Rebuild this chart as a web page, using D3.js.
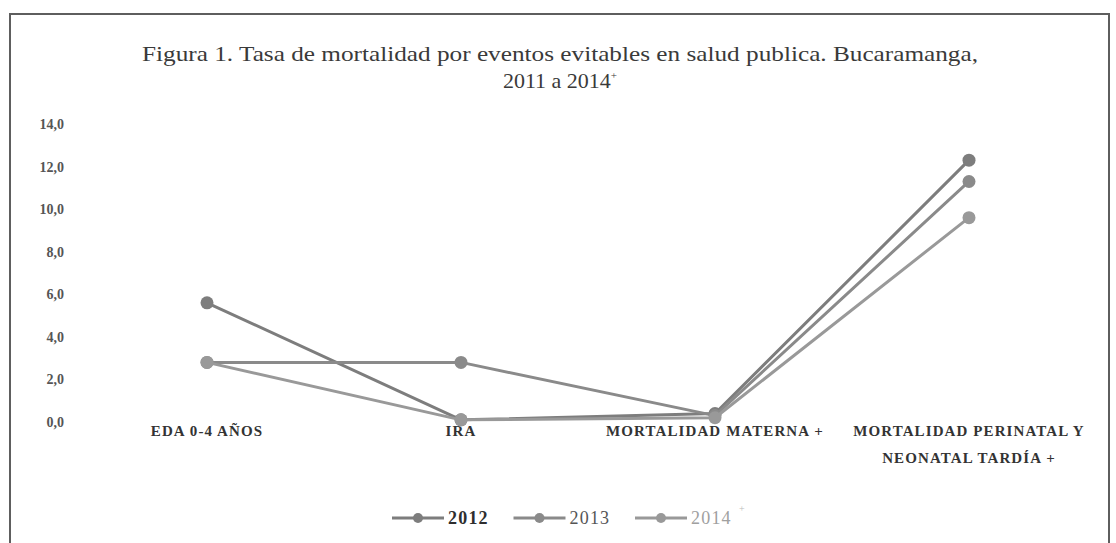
<!DOCTYPE html>
<html>
<head>
<meta charset="utf-8">
<script src="https://cdn.jsdelivr.net/npm/d3@7"></script>
<style>
  body { margin: 0; background: #fff; }
  text { font-family: "Liberation Serif", "DejaVu Serif", serif; }
</style>
</head>
<body>
<div id="wrapper"></div>
<script>
// data
const categories = ['EDA 0-4 AÑOS', 'IRA', 'MORTALIDAD MATERNA +', 'MORTALIDAD PERINATAL Y|NEONATAL TARDÍA +'];
const years = ['2012', '2013', '2014'];
const values2012 = [5.6, 0.1, 0.4, 12.3];
const values2013 = [2.8, 2.8, 0.3, 11.3];
const values2014 = [2.8, 0.1, 0.2, 9.6];
const yTicks = [0, 2, 4, 6, 8, 10, 12, 14];

const series = [
  { name: years[0], values: values2012, color: '#7d7d7d', text: '#2e2e2e', weight: 'bold' },
  { name: years[1], values: values2013, color: '#8a8a8a', text: '#555', weight: 'normal' },
  { name: years[2], values: values2014, color: '#999', text: '#a0a0a0', weight: 'normal' },
];

const width = 1116, height = 543;

const svg = d3.select('#wrapper').append('svg').attr('width', width).attr('height', height);

// frame
svg.append('rect')
  .attr('x', 10).attr('y', 14)
  .attr('width', 1099).attr('height', 540)
  .attr('fill', '#fff')
  .attr('stroke', '#5e5e5e')
  .attr('stroke-width', 2);

// title
const title = svg.append('text')
  .attr('text-anchor', 'middle')
  .attr('fill', '#3a3a3a')
  .attr('font-size', 22);
title.append('tspan').attr('x', 560).attr('y', 61)
  .attr('textLength', 836).attr('lengthAdjust', 'spacingAndGlyphs')
  .text('Figura 1. Tasa de mortalidad por eventos evitables en salud publica. Bucaramanga,');
title.append('tspan').attr('x', 560).attr('y', 88).text('2011 a 2014');
title.append('tspan').attr('font-size', 11).attr('dy', -9).text('+');

const x = d3.scalePoint().domain(categories).range([80, 1096]).padding(0.5);
const y = d3.scaleLinear().domain([0, 14]).range([422, 124]);

// y axis (labels only)
const yAxis = d3.axisLeft(y)
  .tickValues(yTicks)
  .tickSize(0)
  .tickPadding(0)
  .tickFormat((d) => d3.format('.1f')(d).replace('.', ','));

const gy = svg.append('g').attr('transform', 'translate(64,0)').call(yAxis);
gy.select('.domain').remove();
gy.selectAll('text')
  .attr('font-size', 14)
  .attr('font-weight', 'bold')
  .attr('fill', '#555')
  .style('font-family', '"Liberation Serif", serif');

// x axis labels
const gx = svg.append('g');
categories.forEach((c) => {
  const lines = c.split('|');
  const t = gx.append('text')
    .attr('text-anchor', 'middle')
    .attr('font-size', 15)
    .attr('font-weight', 'bold')
    .attr('letter-spacing', 1.1)
    .attr('fill', '#333');
  lines.forEach((l, i) => {
    t.append('tspan')
      .attr('x', x(c))
      .attr('y', 436 + i * 27)
      .text(l);
  });
});

// lines + markers
const line = d3.line()
  .x((d, i) => x(categories[i]))
  .y((d) => y(d));

series.forEach((s) => {
  svg.append('path')
    .datum(s.values)
    .attr('d', line)
    .attr('fill', 'none')
    .attr('stroke', s.color)
    .attr('stroke-width', 3)
    .attr('stroke-linejoin', 'round');

  svg.append('g')
    .selectAll('circle')
    .data(s.values)
    .enter()
    .append('circle')
    .attr('cx', (d, i) => x(categories[i]))
    .attr('cy', (d) => y(d))
    .attr('r', 6.5)
    .attr('fill', s.color);
});

// legend
const legendX = d3.scalePoint().domain(years).range([392, 635]);
const legend = svg.append('g')
  .selectAll('g')
  .data(series)
  .enter()
  .append('g')
  .attr('transform', (d) => `translate(${legendX(d.name)},518)`);

legend.append('line')
  .attr('x1', 0).attr('x2', 52)
  .attr('stroke', (d) => d.color)
  .attr('stroke-width', 3);
legend.append('circle')
  .attr('cx', 26).attr('r', 5)
  .attr('fill', (d) => d.color);
legend.append('text')
  .attr('x', 56).attr('dy', '0.35em')
  .attr('font-size', 18)
  .attr('letter-spacing', 1.2)
  .attr('font-weight', (d) => d.weight)
  .attr('fill', (d) => d.text)
  .text((d) => d.name);
legend.filter((d, i) => i === 2).append('text')
  .attr('x', 104).attr('y', -6)
  .attr('font-size', 10)
  .attr('fill', '#bbb')
  .text('+');
</script>
</body>
</html>
